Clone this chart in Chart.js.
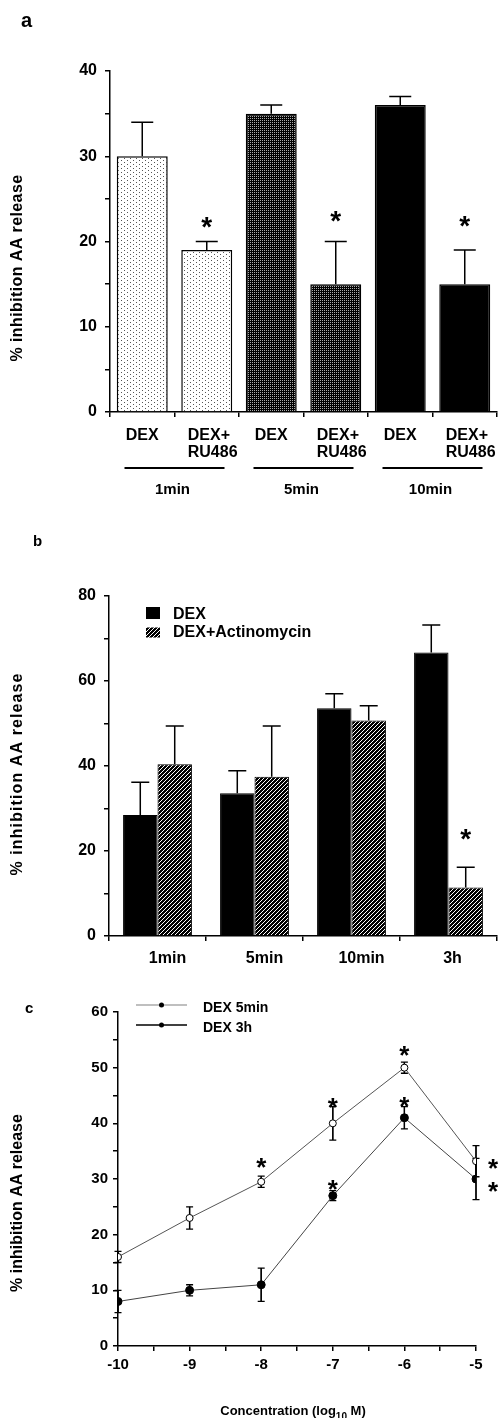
<!DOCTYPE html>
<html>
<head>
<meta charset="utf-8">
<script src="https://cdn.jsdelivr.net/npm/chart.js@4.4.0/dist/chart.umd.min.js"></script>
<style>
body{margin:0;background:#fff;}
.panel{position:absolute;left:0;width:499px;}
</style>
</head>
<body>
<div class="panel" style="top:0;height:510px"><canvas id="chartA"></canvas></div>
<div class="panel" style="top:510px;height:465px"><canvas id="chartB"></canvas></div>
<div class="panel" style="top:975px;height:443px"><canvas id="chartC"></canvas></div>
<script>
// panel a
const labelsA = [['DEX'],['DEX+','RU486'],['DEX'],['DEX+','RU486'],['DEX'],['DEX+','RU486']]
const valuesA = [30,19,35,15,36,15]
const errorsA = [4,1,1,5,1,4]
const groupsA = ['1min','5min','10min']
const starsA = [null,22.6,null,23.3,null,22.7]

// panel b
const labelsB = ['1min','5min','10min','3h']
const dexB = [28.5,33.6,53.6,66.7]
const dexErrB = [7.7,5.3,3.4,6.5]
const actB = [40.4,37.5,50.7,11.4]
const actErrB = [9.0,11.9,3.5,4.8]
const starsB = [null,null,null,24.5]

// panel c
const concC = [-10,-9,-8,-7,-6,-5]
const dex5C = [16,23,29.5,40,50,33.2]
const dex5ErrC = [1,2,1,3,1,2.8]
const dex3hC = [8,10,11,27,41,30]
const dex3hErrC = [2,1,3,0.9,2,3.7]
const stars5C = [null,null,33.2,44,53.4,33]
const stars3hC = [null,null,null,29.3,44.2,29]

const FONT = '"Liberation Sans", Arial, Helvetica, sans-serif'
Chart.defaults.font.family = FONT
Chart.defaults.color = '#000'

function pattern(w,h,fn){
    const c = document.createElement('canvas')
    c.width = w; c.height = h
    const g = c.getContext('2d')
    fn(g)
    return g.createPattern(c,'repeat')
}
const lightDots = pattern(6,4,g=>{
    g.fillStyle='#fff'; g.fillRect(0,0,6,4)
    g.fillStyle='#555'; g.fillRect(1,0,1,1); g.fillRect(4,2,1,1)
})
const darkDots = pattern(2,2,g=>{
    g.fillStyle='#000'; g.fillRect(0,0,2,2)
    g.fillStyle='#aaa'; g.fillRect(0,0,1,1)
})
const hatch = pattern(4,4,g=>{
    g.fillStyle='#000'; g.fillRect(0,0,4,4)
    g.fillStyle='#fff'
    g.fillRect(3,0,1,1); g.fillRect(2,1,1,1); g.fillRect(1,2,1,1); g.fillRect(0,3,1,1)
})

function yAxis(max,step,major,width,size,pad){
    return {
        min:0, max:max,
        ticks:{stepSize:step, autoSkip:false, padding:pad, font:{size:size,weight:'bold'},
            callback:v => v%major===0 ? v : ''},
        grid:{drawOnChartArea:false, tickLength:5, color:'#000', lineWidth:1.5},
        border:{color:'#000', width:1.5},
        afterFit:s => { s.width = width }
    }
}
function errorBar(ctx,x,y1,y2,cap){
    ctx.beginPath()
    ctx.moveTo(x,y1); ctx.lineTo(x,y2)
    ctx.moveTo(x-cap,y2); ctx.lineTo(x+cap,y2)
    ctx.stroke()
}
function drawStar(ctx,x,y,size){
    ctx.font = `bold ${size}px ${FONT}`
    ctx.textAlign = 'center'
    ctx.textBaseline = 'alphabetic'
    ctx.fillText('*',x,y+size*0.58)
}
function yTitle(ctx,text,x,y,size,spacing){
    ctx.save()
    ctx.translate(x,y)
    ctx.rotate(-Math.PI/2)
    ctx.font = `bold ${size}px ${FONT}`
    ctx.letterSpacing = spacing+'px'
    ctx.textAlign = 'center'
    ctx.textBaseline = 'middle'
    ctx.fillText(text,0,0)
    ctx.restore()
}
function letter(ctx,t,x,y,size){
    ctx.font = `bold ${size}px ${FONT}`
    ctx.textAlign = 'left'
    ctx.textBaseline = 'alphabetic'
    ctx.fillText(t,x,y)
}

const drawA = {
    id:'drawA',
    afterDatasetsDraw(chart){
        const ctx = chart.ctx, x = chart.scales.x, y = chart.scales.y
        const bottom = chart.chartArea.bottom
        const bars = chart.getDatasetMeta(0).data
        ctx.save()
        ctx.strokeStyle = '#000'; ctx.fillStyle = '#000'; ctx.lineWidth = 1.5
        bars.forEach((b,i)=>{
            errorBar(ctx,b.x,y.getPixelForValue(valuesA[i]),y.getPixelForValue(valuesA[i]+errorsA[i]),11)
        })
        starsA.forEach((s,i)=>{ if(s!==null) drawStar(ctx,bars[i].x,y.getPixelForValue(s),28) })
        ctx.font = `bold 16px ${FONT}`
        labelsA.forEach((lab,i)=>{
            const cx = x.getPixelForValue(i)
            if(lab.length===1){
                ctx.textAlign='center'; ctx.fillText(lab[0],cx,bottom+27.5)
            } else {
                ctx.textAlign='left'
                ctx.fillText(lab[0],cx-19,bottom+27.5)
                ctx.fillText(lab[1],cx-19,bottom+44.5)
            }
        })
        ctx.lineWidth = 2
        groupsA.forEach((g,i)=>{
            const c = (x.getPixelForValue(2*i)+x.getPixelForValue(2*i+1))/2
            ctx.beginPath(); ctx.moveTo(c-50,bottom+56); ctx.lineTo(c+50,bottom+56); ctx.stroke()
            ctx.font = `bold 15px ${FONT}`; ctx.textAlign='center'
            ctx.fillText(g,c-2,bottom+82)
        })
        yTitle(ctx,'% inhibition AA release',18,268,16,0.4)
        letter(ctx,'a',21,27,20)
        ctx.restore()
    }
}

new Chart(document.getElementById('chartA'),{
    type:'bar',
    data:{
        labels:labelsA,
        datasets:[{
            data:valuesA,
            backgroundColor:[lightDots,lightDots,darkDots,darkDots,'#000','#000'],
            borderColor:'#000',
            borderWidth:1.5,
            barPercentage:0.79,
            categoryPercentage:1
        }]
    },
    options:{
        responsive:true, maintainAspectRatio:false, animation:false,
        layout:{padding:{left:0,right:2,top:71,bottom:0}},
        plugins:{legend:{display:false},tooltip:{enabled:false}},
        scales:{
            x:{ticks:{display:false},
                grid:{drawOnChartArea:false,tickLength:5,color:'#000',lineWidth:1.5},
                border:{color:'#000',width:1.5},
                afterFit:s=>{ s.height = 98 }},
            y:yAxis(40,5,10,110,16,8)
        }
    },
    plugins:[drawA]
})

const drawB = {
    id:'drawB',
    afterDatasetsDraw(chart){
        const ctx = chart.ctx, x = chart.scales.x, y = chart.scales.y
        const area = chart.chartArea
        const dex = chart.getDatasetMeta(0).data, act = chart.getDatasetMeta(1).data
        ctx.save()
        ctx.strokeStyle = '#000'; ctx.fillStyle = '#000'; ctx.lineWidth = 1.5
        dex.forEach((b,i)=>errorBar(ctx,b.x,y.getPixelForValue(dexB[i]),y.getPixelForValue(dexB[i]+dexErrB[i]),9))
        act.forEach((b,i)=>errorBar(ctx,b.x,y.getPixelForValue(actB[i]),y.getPixelForValue(actB[i]+actErrB[i]),9))
        starsB.forEach((s,i)=>{ if(s!==null) drawStar(ctx,act[i].x,y.getPixelForValue(s),28) })
        ctx.font = `bold 16px ${FONT}`; ctx.textAlign='center'
        labelsB.forEach((l,i)=>ctx.fillText(l,x.getPixelForValue(i)+(i===3?4:10),area.bottom+27.3))
        // legend
        ctx.fillRect(146,area.top+11,14,12)
        ctx.fillStyle = hatch; ctx.fillRect(146,area.top+31.5,14,10)
        ctx.fillStyle = '#000'; ctx.textAlign='left'
        ctx.fillText('DEX',173,area.top+23)
        ctx.fillText('DEX+Actinomycin',173,area.top+40.7)
        yTitle(ctx,'% inhibition AA release',18,264,16,1.1)
        letter(ctx,'b',33,36,15)
        ctx.restore()
    }
}

new Chart(document.getElementById('chartB'),{
    type:'bar',
    data:{
        labels:labelsB,
        datasets:[
            {label:'DEX',data:dexB,backgroundColor:'#000',borderColor:'#000',borderWidth:1,
                barPercentage:1,categoryPercentage:0.71},
            {label:'DEX+Actinomycin',data:actB,backgroundColor:hatch,borderColor:'#000',borderWidth:1,
                barPercentage:1,categoryPercentage:0.71}
        ]
    },
    options:{
        responsive:true, maintainAspectRatio:false, animation:false,
        layout:{padding:{left:0,right:2,top:86,bottom:0}},
        plugins:{legend:{display:false},tooltip:{enabled:false}},
        scales:{
            x:{ticks:{display:false},
                grid:{drawOnChartArea:false,tickLength:5,color:'#000',lineWidth:1.5},
                border:{color:'#000',width:1.5},
                afterFit:s=>{ s.height = 39 }},
            y:yAxis(80,10,20,109,16,8)
        }
    },
    plugins:[drawB]
})

const drawC = {
    id:'drawC',
    beforeDatasetsDraw(chart){
        const ctx = chart.ctx, y = chart.scales.y
        const p5 = chart.getDatasetMeta(0).data, p3 = chart.getDatasetMeta(1).data
        ctx.save()
        ctx.strokeStyle = '#000'; ctx.lineWidth = 1.3
        p5.forEach((p,i)=>{
            errorBar(ctx,p.x,y.getPixelForValue(dex5C[i]-dex5ErrC[i]),y.getPixelForValue(dex5C[i]+dex5ErrC[i]),3.5)
            errorBar(ctx,p.x,y.getPixelForValue(dex5C[i]+dex5ErrC[i]),y.getPixelForValue(dex5C[i]-dex5ErrC[i]),3.5)
        })
        p3.forEach((p,i)=>{
            errorBar(ctx,p.x,y.getPixelForValue(dex3hC[i]-dex3hErrC[i]),y.getPixelForValue(dex3hC[i]+dex3hErrC[i]),3.5)
            errorBar(ctx,p.x,y.getPixelForValue(dex3hC[i]+dex3hErrC[i]),y.getPixelForValue(dex3hC[i]-dex3hErrC[i]),3.5)
        })
        ctx.restore()
    },
    afterDatasetsDraw(chart){
        const ctx = chart.ctx, y = chart.scales.y
        const p5 = chart.getDatasetMeta(0).data, p3 = chart.getDatasetMeta(1).data
        const last = concC.length-1
        ctx.save()
        ctx.fillStyle = '#000'
        stars5C.forEach((s,i)=>{ if(s!==null) drawStar(ctx,p5[i].x+(i===last?17:0),y.getPixelForValue(s),26) })
        stars3hC.forEach((s,i)=>{ if(s!==null) drawStar(ctx,p3[i].x+(i===last?17:0),y.getPixelForValue(s),26) })
        // legend
        ctx.lineWidth = 1.3
        ctx.strokeStyle = '#aaa'
        ctx.beginPath(); ctx.moveTo(136,30); ctx.lineTo(187,30); ctx.stroke()
        ctx.strokeStyle = '#000'
        ctx.beginPath(); ctx.moveTo(136,50); ctx.lineTo(187,50); ctx.stroke()
        ctx.beginPath(); ctx.arc(161.5,30,2.5,0,Math.PI*2); ctx.fill()
        ctx.beginPath(); ctx.arc(161.5,50,2.5,0,Math.PI*2); ctx.fill()
        ctx.font = `bold 14px ${FONT}`; ctx.textAlign='left'; ctx.textBaseline='alphabetic'
        ctx.fillText('DEX 5min',203,37)
        ctx.fillText('DEX 3h',203,57.3)
        // x title with subscript
        const t1 = 'Concentration (log', t3 = ' M)'
        ctx.font = `bold 13px ${FONT}`
        const w1 = ctx.measureText(t1).width, w3 = ctx.measureText(t3).width
        ctx.font = `bold 10px ${FONT}`
        const w2 = ctx.measureText('10').width
        let tx = 293-(w1+w2+w3)/2
        ctx.font = `bold 13px ${FONT}`; ctx.fillText(t1,tx,440)
        ctx.font = `bold 10px ${FONT}`; ctx.fillText('10',tx+w1,445)
        ctx.font = `bold 13px ${FONT}`; ctx.fillText(t3,tx+w1+w2,440)
        yTitle(ctx,'% inhibition AA release',18,228,16,0)
        letter(ctx,'c',25,38,15)
        ctx.restore()
    }
}

new Chart(document.getElementById('chartC'),{
    type:'line',
    data:{
        datasets:[
            {label:'DEX 5min',data:concC.map((c,i)=>({x:c,y:dex5C[i]})),
                borderColor:'#555',borderWidth:1,pointRadius:3.5,pointBackgroundColor:'#fff',
                pointBorderColor:'#000',pointBorderWidth:1,tension:0},
            {label:'DEX 3h',data:concC.map((c,i)=>({x:c,y:dex3hC[i]})),
                borderColor:'#444',borderWidth:1,pointRadius:4,pointBackgroundColor:'#000',
                pointBorderColor:'#000',pointBorderWidth:1,tension:0}
        ]
    },
    options:{
        responsive:true, maintainAspectRatio:false, animation:false,
        layout:{padding:{left:0,right:23,top:37,bottom:0}},
        plugins:{legend:{display:false},tooltip:{enabled:false}},
        scales:{
            x:{type:'linear',min:-10,max:-5,
                ticks:{stepSize:0.5,autoSkip:false,padding:5,font:{size:15,weight:'bold'},
                    callback:v => v%1===0 ? v : ''},
                grid:{drawOnChartArea:false,tickLength:5,color:'#000',lineWidth:1.5},
                border:{color:'#000',width:1.5},
                afterFit:s=>{ s.height = 72 }},
            y:yAxis(60,5,10,118,15,5)
        }
    },
    plugins:[drawC]
})
</script>
</body>
</html>
